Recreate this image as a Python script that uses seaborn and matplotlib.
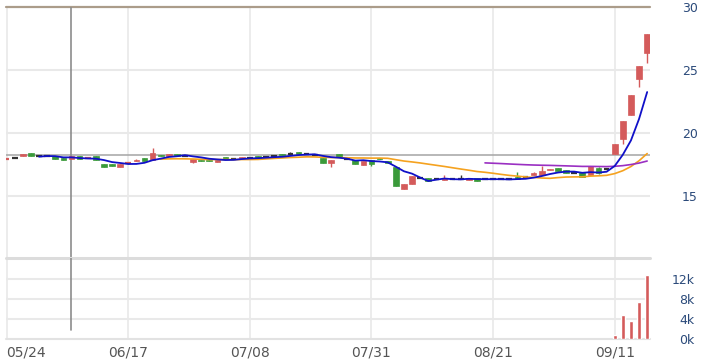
import numpy as np
import pandas as pd
import matplotlib
matplotlib.use("Agg")
import matplotlib.pyplot as plt
import seaborn as sns

# ---------------- data ----------------
tick_labels = ["05/24", "06/17", "07/08", "07/31", "08/21", "09/11"]
tick_bars = [0, 15, 30, 45, 60, 75]

opens = [17.90, 17.97, 18.13, 18.37, 18.18, 18.18, 18.13, 17.97, 17.91, 18.13,
         18.00, 18.13, 17.54, 17.49, 17.27, 17.60, 17.78, 17.97, 17.83, 18.23,
         18.13, 18.29, 18.15, 17.68, 17.85, 17.85, 17.65, 18.07, 17.95, 17.91,
         18.00, 18.13, 18.10, 18.15, 18.33, 18.35, 18.50, 18.30, 18.25, 17.97,
         17.60, 18.29, 17.91, 17.86, 17.45, 17.83, 18.00, 17.78, 17.30, 15.54,
         15.92, 16.37, 16.37, 16.30, 16.27, 16.30, 16.30, 16.27, 16.37, 16.34,
         16.30, 16.30, 16.30, 16.50, 16.45, 16.66, 16.66, 17.00, 17.20, 17.04,
         16.77, 16.90, 16.66, 17.17, 17.15, 18.33, 19.52, 21.45, 24.29, 26.33]
closes = [17.92, 17.97, 18.29, 18.13, 18.18, 18.18, 17.91, 17.81, 18.13, 17.91,
          18.02, 17.81, 17.27, 17.33, 17.54, 17.62, 17.84, 17.72, 18.37, 18.15,
          18.29, 18.13, 18.15, 17.88, 17.75, 17.75, 17.86, 17.91, 17.95, 18.07,
          18.00, 17.97, 18.10, 18.15, 18.23, 18.35, 18.30, 18.30, 18.25, 17.60,
          17.86, 18.07, 17.91, 17.49, 17.75, 17.51, 17.92, 17.57, 15.76, 15.92,
          16.56, 16.37, 16.18, 16.30, 16.37, 16.30, 16.30, 16.40, 16.18, 16.34,
          16.30, 16.30, 16.30, 16.32, 16.45, 16.77, 16.93, 17.09, 16.93, 16.82,
          16.77, 16.45, 17.35, 16.77, 17.15, 19.07, 20.93, 23.04, 25.34, 27.86]
highs = [17.95, 17.97, 18.29, 18.37, 18.18, 18.18, 18.13, 17.97, 18.13, 18.13,
         18.05, 18.13, 17.54, 17.49, 17.54, 17.62, 17.90, 17.97, 18.81, 18.23,
         18.29, 18.29, 18.15, 17.88, 17.85, 17.85, 17.86, 18.07, 17.95, 18.07,
         18.00, 18.13, 18.10, 18.15, 18.33, 18.45, 18.50, 18.30, 18.25, 17.97,
         17.86, 18.29, 18.10, 17.86, 17.75, 17.83, 18.00, 17.78, 17.30, 15.92,
         16.56, 16.37, 16.37, 16.30, 16.64, 16.30, 16.60, 16.40, 16.37, 16.34,
         16.30, 16.30, 16.30, 16.90, 16.45, 16.85, 17.35, 17.09, 17.20, 17.04,
         16.77, 16.90, 17.35, 17.30, 17.15, 19.07, 20.93, 23.04, 25.34, 27.86]
lows = [17.88, 17.97, 18.13, 18.13, 18.18, 18.18, 17.91, 17.81, 17.91, 17.91,
        18.00, 17.81, 17.27, 17.33, 17.27, 17.60, 17.78, 17.72, 17.80, 18.15,
        18.13, 18.13, 18.15, 17.62, 17.75, 17.75, 17.65, 17.91, 17.95, 17.91,
        18.00, 17.97, 18.10, 18.15, 18.23, 18.35, 18.30, 18.30, 18.25, 17.60,
        17.27, 18.07, 17.91, 17.49, 17.45, 17.35, 17.92, 17.57, 15.76, 15.54,
        15.92, 16.37, 16.18, 16.30, 16.27, 16.30, 16.30, 16.27, 16.18, 16.34,
        16.30, 16.30, 16.30, 16.32, 16.45, 16.60, 16.66, 17.00, 16.93, 16.82,
        16.77, 16.45, 16.66, 16.70, 17.15, 18.33, 19.10, 21.40, 23.67, 25.60]
volumes = [0] * 75 + [800, 4800, 3600, 7400, 12800]

ref_price = 18.23
cursor_bar = 8
price_ticks = [15, 20, 25, 30]
vol_ticks = [0, 4000, 8000, 12000]
vol_tick_labels = ["0k", "4k", "8k", "12k"]

# ---------------- style ----------------
sns.set_style("white")
plt.rcParams["font.family"] = ["DejaVu Sans"]

UP = "#d45b5b"
DOWN = "#3a9a3a"
FLAT = "#333333"
GRID = "#e9e9e9"
LABEL_BLUE = "#2b4a7a"

df = pd.DataFrame({"bar": np.arange(len(closes)), "open": opens, "close": closes,
                   "high": highs, "low": lows, "volume": volumes})
df["ma5"] = df["close"].rolling(5).mean()
df["ma20"] = df["close"].rolling(20).mean()
df["ma60"] = df["close"].rolling(60).mean()

W, H = 712, 363
fig = plt.figure(figsize=(W / 100, H / 100), dpi=100)
x_left, x_right = 5.8 / W, 650 / W
ax = fig.add_axes([x_left, (H - 258.3) / H, x_right - x_left, (258.3 - 7.3) / H])
axv = fig.add_axes([x_left, (H - 339) / H, x_right - x_left, (339 - 258.3) / H])

xlim = (-0.1, 79.35)
for a in (ax, axv):
    a.set_xlim(*xlim)
    for s in a.spines.values():
        s.set_visible(False)
    for b in tick_bars:
        a.axvline(b, color=GRID, lw=1.2, zorder=0)

ax.set_ylim(10, 30)
axv.set_ylim(0, 16150)

# price grid
for p in price_ticks[:-1]:
    ax.axhline(p, color=GRID, lw=1.5, zorder=0)
ax.axhline(30, color="#ab9c8a", lw=1.6, zorder=1, clip_on=False)
axv.axhline(16150, color="#dcdcdc", lw=2.2, zorder=1, clip_on=False)
for v in vol_ticks[1:]:
    axv.axhline(v, color=GRID, lw=1.5, zorder=0)
axv.axhline(0, color="#e2e2e2", lw=1.5, zorder=0, clip_on=False)

# reference line and cursor
ax.axhline(ref_price, color="#ababab", lw=1.2, zorder=1)
ax.axvline(cursor_bar, color="#8c8c8c", lw=1.2, zorder=1)
axv.axvline(cursor_bar, ymin=0.11, ymax=1, color="#8c8c8c", lw=1.2, zorder=1)

# candles
bw = 0.7
for r in df.itertuples():
    if r.close > r.open:
        c = UP
    elif r.close < r.open:
        c = DOWN
    else:
        c = FLAT
    ax.vlines(r.bar, r.low, r.high, color=c, lw=1.0, zorder=2)
    lo, hi = min(r.open, r.close), max(r.open, r.close)
    if hi - lo < 0.05:
        ax.hlines((lo + hi) / 2, r.bar - bw / 2, r.bar + bw / 2, color=c, lw=1.6, zorder=2)
    else:
        ax.bar(r.bar, hi - lo, bottom=lo, width=bw, color=c, edgecolor=c, lw=0.5, zorder=2)

# moving averages
sns.lineplot(data=df, x="bar", y="ma20", ax=ax, color="#f5a21f", lw=1.2, zorder=3)
sns.lineplot(data=df, x="bar", y="ma60", ax=ax, color="#9a2fc2", lw=1.2, zorder=3)
sns.lineplot(data=df, x="bar", y="ma5", ax=ax, color="#1010c8", lw=1.3, zorder=4)

# volume
vdf = df[df["volume"] > 0]
axv.bar(vdf["bar"], vdf["volume"], width=0.45, color=UP, zorder=2)

# axes ticks and labels
ax.set_xlabel("")
ax.set_ylabel("")
ax.set_xticks([])
ax.yaxis.tick_right()
ax.set_yticks(price_ticks)
ax.set_yticklabels([str(t) for t in price_ticks])
ax.tick_params(axis="y", length=0, pad=23, labelsize=9, labelcolor=LABEL_BLUE)

axv.set_xlabel("")
axv.set_ylabel("")
axv.yaxis.tick_right()
axv.set_yticks(vol_ticks)
axv.set_yticklabels(vol_tick_labels)
axv.tick_params(axis="y", length=0, pad=32, labelsize=9, labelcolor=LABEL_BLUE)
for lab in axv.get_yticklabels():
    lab.set_horizontalalignment("right")

axv.set_xticks(tick_bars)
axv.set_xticklabels(tick_labels)
axv.tick_params(axis="x", length=0, pad=5, labelsize=10, labelcolor="#555555")
xl = axv.get_xticklabels()
xl[0].set_horizontalalignment("left")

fig.savefig("out.png", dpi=100)
